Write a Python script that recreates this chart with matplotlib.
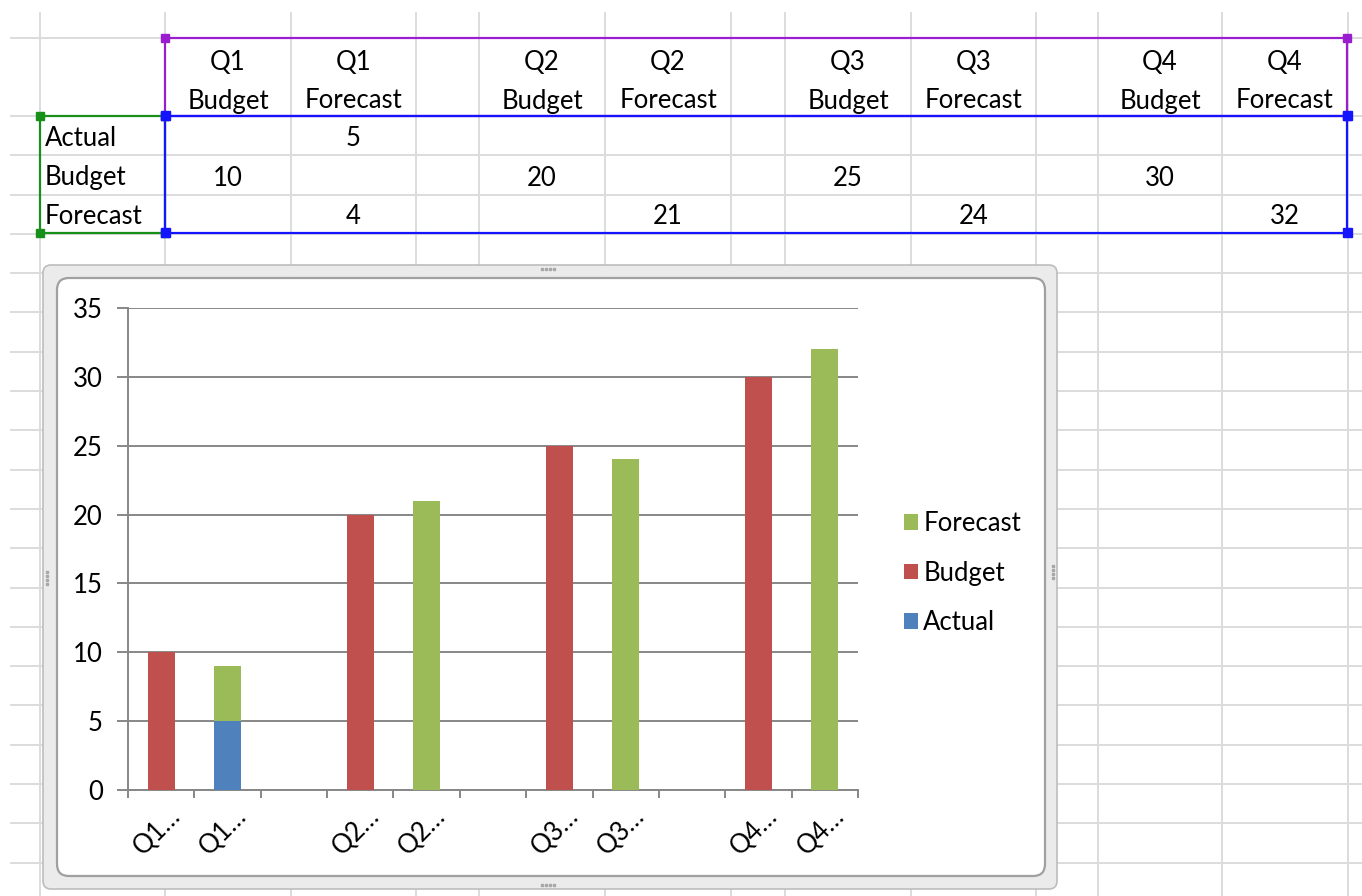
import numpy as np
import matplotlib
matplotlib.use('Agg')
import matplotlib.pyplot as plt
from matplotlib.patches import FancyBboxPatch, Rectangle
import matplotlib.transforms as mtransforms

plt.rcParams['font.family'] = ['Lato', 'DejaVu Sans']

# data
categories = ['Q1 Budget', 'Q1 Forecast', '', 'Q2 Budget', 'Q2 Forecast', '',
              'Q3 Budget', 'Q3 Forecast', '', 'Q4 Budget', 'Q4 Forecast']
series_names = ['Actual', 'Budget', 'Forecast']
actual = [np.nan, 5, np.nan, np.nan, np.nan, np.nan, np.nan, np.nan, np.nan, np.nan, np.nan]
budget = [10, np.nan, np.nan, 20, np.nan, np.nan, 25, np.nan, np.nan, 30, np.nan]
forecast = [np.nan, 4, np.nan, np.nan, 21, np.nan, np.nan, 24, np.nan, np.nan, 32]
yticks = [0, 5, 10, 15, 20, 25, 30, 35]

colors = {'Actual': '#4F81BD', 'Budget': '#C0504D', 'Forecast': '#9BBB59'}

W, H = 1362, 896
fig = plt.figure(figsize=(W / 100, H / 100), dpi=100)
fig.patch.set_facecolor('white')

# spreadsheet background, pixel coordinates
bg = fig.add_axes([0, 0, 1, 1])
bg.set_xlim(0, W)
bg.set_ylim(H, 0)
bg.axis('off')

col_edges = [40, 165, 291, 416, 479, 605, 731, 785, 911, 1036, 1098, 1222, 1348]
row_edges = [38] + [116 + 39.3 * k for k in range(20)]
grid_c = '#DADCDD'
for x in col_edges:
    bg.plot([x, x], [13, H], color=grid_c, lw=1.4, zorder=1)
for y in row_edges:
    bg.plot([11, W], [y, y], color=grid_c, lw=1.4, zorder=1)

fs = 18.5
# header
for i, cat in enumerate(categories):
    if not cat:
        continue
    cx = (col_edges[i + 1] + col_edges[i + 2]) / 2
    q, name = cat.split()
    bg.text(cx, 62, q, ha='center', va='center', fontsize=fs, zorder=3)
    bg.text(cx, 101, name, ha='center', va='center', fontsize=fs, zorder=3)

# rows
row_y = [138, 178, 217]
for r, (sname, vals) in enumerate(zip(series_names, [actual, budget, forecast])):
    bg.text(45, row_y[r], sname, ha='left', va='center', fontsize=fs, zorder=3)
    for i, v in enumerate(vals):
        if np.isnan(v):
            continue
        cx = (col_edges[i + 1] + col_edges[i + 2]) / 2
        bg.text(cx, row_y[r], '%d' % v, ha='center', va='center', fontsize=fs, zorder=3)

# selection outlines
def sel_box(x0, y0, x1, y1, c, s=8):
    bg.add_patch(Rectangle((x0, y0), x1 - x0, y1 - y0, fill=False, ec=c, lw=1.6, zorder=4))
    for (px, py) in [(x0, y0), (x1, y0), (x0, y1), (x1, y1)]:
        bg.add_patch(Rectangle((px - s / 2, py - s / 2), s, s, color=c, zorder=5))

sel_box(165, 38, 1347, 116, '#9A1ECF')
sel_box(40, 116, 165, 233, '#17901A')
sel_box(165, 116, 1347, 233, '#1414FF', s=9)

# chart frame
bg.add_patch(FancyBboxPatch((43, 265), 1014, 624, boxstyle='round,pad=0,rounding_size=8',
                            fc='#EBEBEB', ec='#BDBDBD', lw=1.2, zorder=6))
bg.add_patch(FancyBboxPatch((57, 278), 988, 598, boxstyle='round,pad=0,rounding_size=12',
                            fc='white', ec='#A0A0A0', lw=1.6, zorder=7))
for (dx, dy, horiz) in [(548, 269, True), (548, 885, True), (47, 578, False), (1053, 572, False)]:
    for k in range(4):
        px = dx + (k - 1.5) * 4 if horiz else dx
        py = dy if horiz else dy + (k - 1.5) * 4
        bg.plot(px, py, 's', ms=1.5, color='#A8A8A8', zorder=8)

# chart
ax = fig.add_axes([128 / W, 1 - 790 / H, 730 / W, 482 / H])
ax.set_facecolor('none')
ax.set_zorder(10)
x = np.arange(len(categories))
a = np.array(actual, dtype=float)
b = np.array(budget, dtype=float)
f = np.array(forecast, dtype=float)
bw = 0.41
ax.bar(x, a, bw, color=colors['Actual'], label='Actual', zorder=3)
ax.bar(x, b, bw, bottom=np.nan_to_num(a), color=colors['Budget'], label='Budget', zorder=3)
ax.bar(x, f, bw, bottom=np.nan_to_num(a) + np.nan_to_num(b), color=colors['Forecast'],
       label='Forecast', zorder=3)

ax.set_xlim(-0.5, len(categories) - 0.5)
ax.set_ylim(0, 35)
ax.set_yticks(yticks)
ax.yaxis.grid(True, color='#878787', lw=1.4, zorder=1)
ax.set_axisbelow(True)
for s in ['top', 'right']:
    ax.spines[s].set_visible(False)
for s in ['left', 'bottom']:
    ax.spines[s].set_color('#878787')
    ax.spines[s].set_linewidth(1.4)
ax.tick_params(axis='y', length=8, width=1.4, color='#878787', pad=10, labelsize=fs)

ax.set_xticks(np.arange(len(categories) + 1) - 0.5)
ax.set_xticklabels([])
ax.tick_params(axis='x', which='major', length=6, width=1.4, color='#878787')
ax.set_xticks(x, minor=True)
short = [c.split()[0] + '\u2026' if c else '' for c in categories]
ax.set_xticklabels(short, minor=True, rotation=45, ha='right', va='center',
                   rotation_mode='anchor', fontsize=fs)
ax.tick_params(axis='x', which='minor', length=0, pad=16)
offset = mtransforms.ScaledTranslation(11 / 72, 0, fig.dpi_scale_trans)
for lbl in ax.get_xticklabels(minor=True):
    lbl.set_transform(lbl.get_transform() + offset)

handles, labels = ax.get_legend_handles_labels()
leg = fig.legend(handles[::-1], labels[::-1], loc='center left',
                 bbox_to_anchor=(881 / W, 1 - 573 / H), frameon=False, fontsize=fs,
                 handlelength=0.55, handleheight=0.55, handletextpad=0.2, labelspacing=0.95)
leg.set_zorder(11)

fig.savefig('out.png', dpi=100, facecolor='white')
